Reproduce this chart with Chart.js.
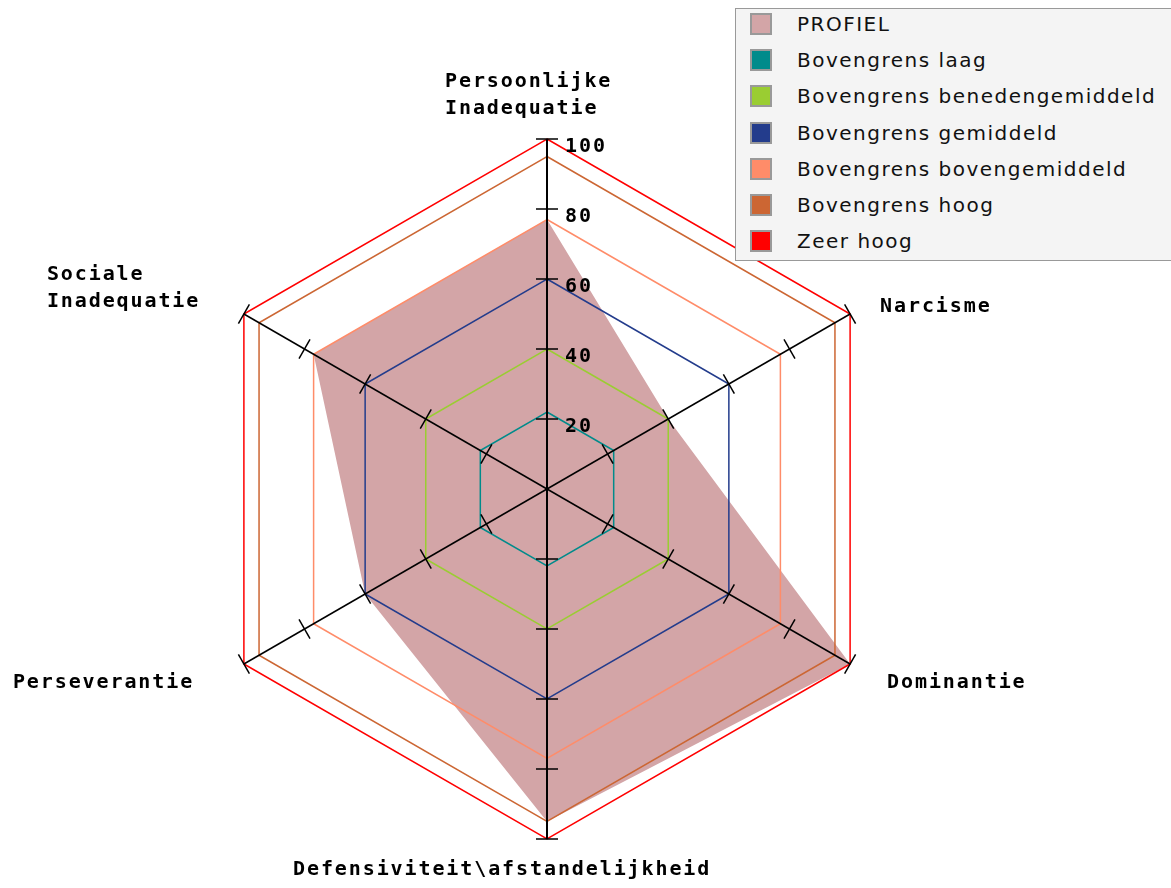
<!DOCTYPE html>
<html>
<head>
<meta charset="utf-8">
<script src="https://cdn.jsdelivr.net/npm/chart.js@4.4.1/dist/chart.umd.min.js"></script>
<style>
  html, body { margin: 0; padding: 0; background: #fff; overflow: hidden; }
  #wrap { position: relative; width: 1171px; height: 888px; }
  #legend {
    position: absolute; left: 735px; top: 8px; width: 450px; height: 253px;
    background: #f4f4f4; border: 1px solid #999; box-sizing: border-box;
    font-family: "DejaVu Sans", sans-serif; font-size: 20px; letter-spacing: 1.5px; color: #111;
  }
  #legend .item { position: absolute; left: 14px; height: 22px; display: flex; align-items: center; white-space: nowrap; }
  #legend .sw { width: 18px; height: 18px; border: 2px solid #999; margin-right: 25px; }
</style>
</head>
<body>
<div id="wrap">
  <canvas id="radar" width="1171" height="888"></canvas>
  <div id="legend"></div>
</div>
<script>
// axes (clockwise from the top)
const labels = ["Persoonlijke Inadequatie", "Narcisme", "Dominantie",
                "Defensiviteit\\afstandelijkheid", "Perseverantie", "Sociale Inadequatie"];

// series
const profiel = [77, 40, 100, 95, 60, 77];
const laag = [22, 22, 22, 22, 22, 22];
const benedengemiddeld = [40, 40, 40, 40, 40, 40];
const gemiddeld = [60, 60, 60, 60, 60, 60];
const bovengemiddeld = [77, 77, 77, 77, 77, 77];
const hoog = [95, 95, 95, 95, 95, 95];
const zeerHoog = [100, 100, 100, 100, 100, 100];

const tickValues = [20, 40, 60, 80, 100];

// label lines and offsets from the end of each axis
const labelLines = [["Persoonlijke", "Inadequatie"], ["Narcisme"], ["Dominantie"],
                    ["Defensiviteit\\afstandelijkheid"], ["Perseverantie"], ["Sociale", "Inadequatie"]];
const labelOffsets = [[-102, -52], [30, -2], [37, 24], [-254, 36], [-231, 24], [-197, -34]];

function line(label, data, color) {
    return {
        label: label, data: data, borderColor: color, backgroundColor: color,
        borderWidth: 1.5, fill: false, pointRadius: 0, order: 0
    };
}

const datasets = [
    { label: "PROFIEL", data: profiel, borderColor: "#D3A5A7", backgroundColor: "#D3A5A7",
      borderWidth: 0, fill: true, pointRadius: 0, order: 1 },
    line("Bovengrens laag", laag, "#008B8B"),
    line("Bovengrens benedengemiddeld", benedengemiddeld, "#9ACD32"),
    line("Bovengrens gemiddeld", gemiddeld, "#233C8C"),
    line("Bovengrens bovengemiddeld", bovengemiddeld, "#FF8C69"),
    line("Bovengrens hoog", hoog, "#CC6633"),
    line("Zeer hoog", zeerHoog, "#FF0000")
];

const axesPlugin = {
    id: "axesPlugin",
    afterDatasetsDraw(chart) {
        const r = chart.scales.r;
        const ctx = chart.ctx;
        ctx.save();
        ctx.strokeStyle = "#000";
        ctx.fillStyle = "#000";
        ctx.font = "bold 20px 'DejaVu Sans Mono', monospace";
        ctx.letterSpacing = "1.9px";
        ctx.textBaseline = "alphabetic";
        ctx.textAlign = "left";
        for (let i = 0; i < labels.length; i++) {
            const end = r.getPointPositionForValue(i, 100);
            ctx.lineWidth = i === 0 || i === 3 ? 2 : 1.5;
            ctx.beginPath();
            ctx.moveTo(r.xCenter, r.yCenter);
            ctx.lineTo(end.x, end.y);
            ctx.stroke();
            ctx.lineWidth = 1.5;
            tickValues.forEach(function (v) {
                const p = r.getPointPositionForValue(i, v);
                const dx = -Math.sin(p.angle) * 11, dy = Math.cos(p.angle) * 11;
                ctx.beginPath();
                ctx.moveTo(p.x - dx, p.y - dy);
                ctx.lineTo(p.x + dx, p.y + dy);
                ctx.stroke();
                if (i === 0) ctx.fillText(String(v), p.x + 18, p.y + 13);
            });
            labelLines[i].forEach(function (t, k) {
                ctx.fillText(t, end.x + labelOffsets[i][0], end.y + labelOffsets[i][1] + k * 27);
            });
        }
        ctx.restore();
    }
};

const chart = new Chart(document.getElementById("radar"), {
    type: "radar",
    data: { labels: labels, datasets: datasets },
    options: {
        responsive: false,
        animation: false,
        layout: { padding: { left: 197, right: 274, top: 139, bottom: 49 } },
        elements: { line: { tension: 0 } },
        plugins: { legend: { display: false }, tooltip: { enabled: false } },
        scales: {
            r: {
                min: 0, max: 100,
                ticks: { display: false, stepSize: 20 },
                grid: { display: false },
                angleLines: { display: false },
                pointLabels: { display: false }
            }
        }
    },
    plugins: [axesPlugin]
});

// legend box
const legend = document.getElementById("legend");
datasets.forEach(function (d, i) {
    const item = document.createElement("div");
    item.className = "item";
    item.style.top = (4 + i * 36.2) + "px";
    const sw = document.createElement("div");
    sw.className = "sw";
    sw.style.background = d.backgroundColor;
    item.appendChild(sw);
    item.appendChild(document.createTextNode(d.label));
    legend.appendChild(item);
});
</script>
</body>
</html>
